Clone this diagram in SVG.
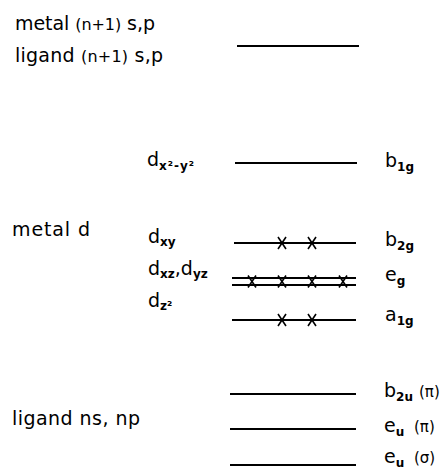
<svg xmlns="http://www.w3.org/2000/svg" width="445" height="471" viewBox="0 0 445 471">
  <style>
    .lbl { font-family: "DejaVu Sans", "Liberation Sans", sans-serif; font-size: 19px; fill: #000; }
    .sub { font-size: 12px; font-weight: bold; }
    .hp { font-size: 16px; }
    .par { font-size: 15px; }
    .lvl { stroke: #000; stroke-width: 2; fill: none; }
    .ex { stroke: #000; stroke-width: 1.6; fill: none; }
  </style>
  <defs>
    <!-- electron mark placed on an orbital level -->
    <path id="ex" class="ex" d="M-4,-6 L4,6 M4,-6 L-4,6"/>
  </defs>

  <rect width="445" height="471" fill="#fff"/>

  <!-- column headings -->
  <g id="headings">
    <text class="lbl" x="15" y="30" textLength="140" lengthAdjust="spacing">metal <tspan class="hp">(n+1)</tspan> s,p</text>
    <text class="lbl" x="15" y="62" textLength="148" lengthAdjust="spacing">ligand <tspan class="hp">(n+1)</tspan> s,p</text>
    <text class="lbl" x="12" y="236" textLength="78" lengthAdjust="spacing">metal d</text>
    <text class="lbl" x="12" y="425" textLength="128" lengthAdjust="spacing">ligand ns, np</text>
  </g>

  <!-- (n+1) s,p level -->
  <g id="level-sp">
    <line class="lvl" x1="237" y1="46" x2="359" y2="46"/>
  </g>

  <!-- b1g -->
  <g id="level-b1g">
    <text class="lbl" x="147" y="166">d<tspan class="sub" dy="4" letter-spacing="1">x²-y²</tspan></text>
    <line class="lvl" x1="235" y1="163" x2="357" y2="163"/>
    <text class="lbl" x="385" y="167">b<tspan class="sub" dy="4">1g</tspan></text>
  </g>

  <!-- b2g -->
  <g id="level-b2g">
    <text class="lbl" x="148" y="243">d<tspan class="sub" dy="3">xy</tspan></text>
    <line class="lvl" x1="234" y1="243" x2="356" y2="243"/>
    <use href="#ex" x="282" y="243"/>
    <use href="#ex" x="312" y="243"/>
    <text class="lbl" x="385" y="246">b<tspan class="sub" dy="4">2g</tspan></text>
  </g>

  <!-- eg (doubly degenerate) -->
  <g id="level-eg">
    <text class="lbl" x="148" y="275">d<tspan class="sub" dy="3">xz</tspan><tspan dy="-3">,d</tspan><tspan class="sub" dy="3">yz</tspan></text>
    <line class="lvl" x1="232" y1="278" x2="356" y2="278"/>
    <line class="lvl" x1="232" y1="285" x2="356" y2="285"/>
    <use href="#ex" x="252" y="281.5"/>
    <use href="#ex" x="282" y="281.5"/>
    <use href="#ex" x="312" y="281.5"/>
    <use href="#ex" x="343" y="281.5"/>
    <text class="lbl" x="385" y="281">e<tspan class="sub" dy="4">g</tspan></text>
  </g>

  <!-- a1g -->
  <g id="level-a1g">
    <text class="lbl" x="148" y="307">d<tspan class="sub" dy="3">z²</tspan></text>
    <line class="lvl" x1="232" y1="320" x2="356" y2="320"/>
    <use href="#ex" x="282" y="320"/>
    <use href="#ex" x="312" y="320"/>
    <text class="lbl" x="385" y="321">a<tspan class="sub" dy="4">1g</tspan></text>
  </g>

  <!-- b2u (pi) -->
  <g id="level-b2u">
    <line class="lvl" x1="230" y1="394" x2="356" y2="394"/>
    <text class="lbl" x="384" y="397">b<tspan class="sub" dy="4">2u</tspan><tspan class="par" dy="-4" x="419">(π)</tspan></text>
  </g>

  <!-- eu (pi) -->
  <g id="level-eu-pi">
    <line class="lvl" x1="230" y1="429" x2="356" y2="429"/>
    <text class="lbl" x="384" y="432">e<tspan class="sub" dy="4">u</tspan><tspan class="par" dy="-4" x="414">(π)</tspan></text>
  </g>

  <!-- eu (sigma) -->
  <g id="level-eu-sigma">
    <line class="lvl" x1="230" y1="465" x2="356" y2="465"/>
    <text class="lbl" x="384" y="463">e<tspan class="sub" dy="4">u</tspan><tspan class="par" dy="-4" x="414">(σ)</tspan></text>
  </g>
</svg>
